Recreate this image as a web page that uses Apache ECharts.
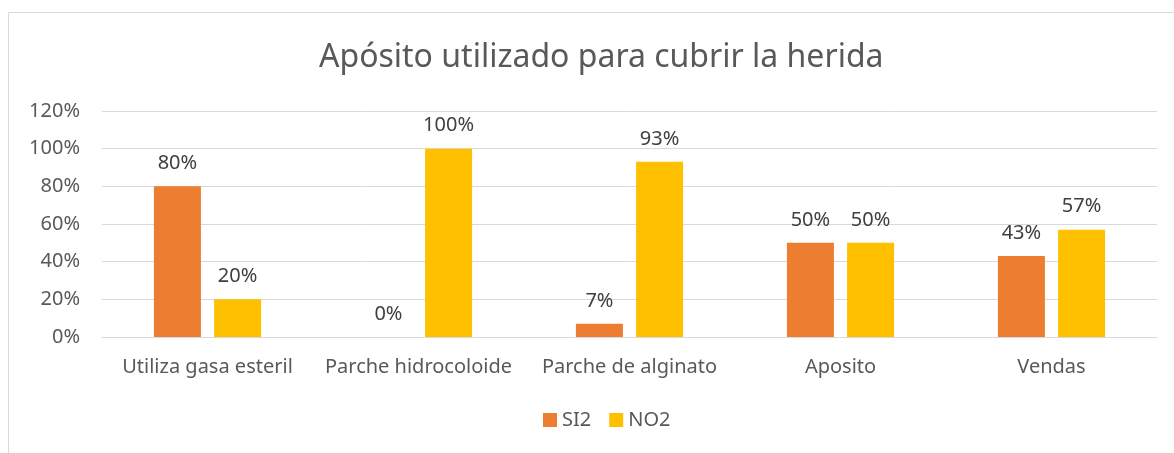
<!DOCTYPE html>
<html><head><meta charset="utf-8">
<script src="https://cdn.jsdelivr.net/npm/echarts@6/dist/echarts.min.js"></script>
<style>html,body{margin:0;padding:0;background:#fff}#c{width:1174px;height:453px}</style>
</head><body><div id="c"></div>
<script>
const categories = ['Utiliza gasa esteril','Parche hidrocoloide','Parche de alginato','Aposito','Vendas'];
const si2 = [80, 0, 7, 50, 43];
const no2 = [20, 100, 93, 50, 57];
const yTicks = [0, 20, 40, 60, 80, 100, 120];
const FONT = 'Noto Sans';
const chart = echarts.init(document.getElementById('c'));
const lbl = {show:true, position:'top', distance:13, color:'#404040', fontFamily:FONT, fontSize:20, formatter: p => p.value + '%'};
chart.setOption({
  animation:false,
  graphic:[{type:'rect', shape:{x:8.5,y:12.5,width:1180,height:460}, style:{fill:'none', stroke:'#d9d9d9', lineWidth:1}, silent:true}],
  title:{text:'Apósito utilizado para cubrir la herida', left:314, top:37, textStyle:{fontFamily:FONT, fontSize:32, fontWeight:'normal', color:'#595959'}},
  legend:{bottom:18, left:538, itemWidth:14, itemHeight:14, itemGap:18, itemStyle:{borderWidth:0}, icon:'rect', textStyle:{fontFamily:FONT, fontSize:20, color:'#595959'}},
  grid:{left:102, right:17, top:111, bottom:116},
  xAxis:{type:'category', data:categories, axisTick:{show:false}, axisLine:{lineStyle:{color:'#d9d9d9'}}, axisLabel:{interval:0, hideOverlap:false, fontFamily:FONT, fontSize:20, color:'#595959', margin:20}},
  yAxis:{type:'value', min:yTicks[0], max:yTicks[yTicks.length-1], interval:20, axisLabel:{fontFamily:FONT, fontSize:20, color:'#595959', margin:22, formatter:'{value}%'}, splitLine:{lineStyle:{color:'#d9d9d9'}}, axisLine:{show:false}},
  series:[
    {name:'SI2', type:'bar', data:si2, barWidth:47, barGap:'28%', itemStyle:{color:'#ED7D31'}, label:lbl},
    {name:'NO2', type:'bar', data:no2, barWidth:47, itemStyle:{color:'#FFC000'}, label:lbl}
  ]
});
</script></body></html>
